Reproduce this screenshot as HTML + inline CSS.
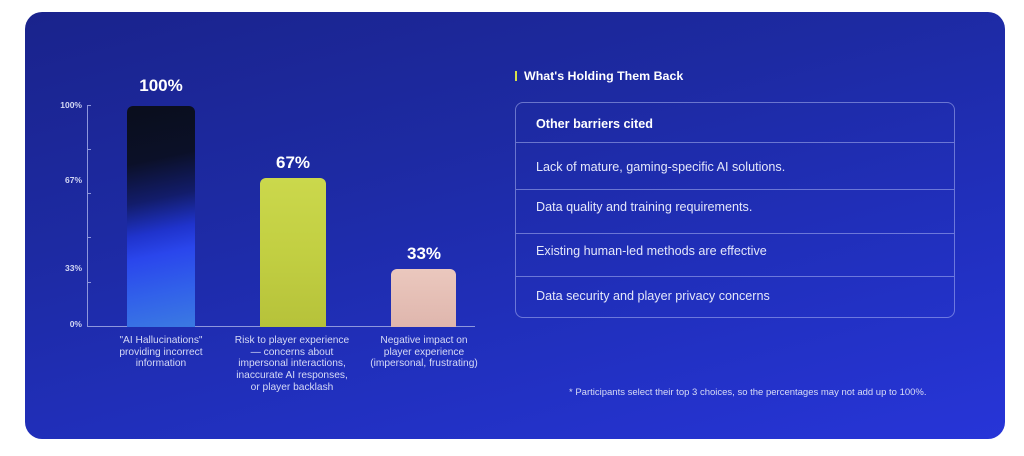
<!DOCTYPE html>
<html>
<head>
<meta charset="utf-8">
<style>
  html, body { margin:0; padding:0; }
  body { width:1024px; height:456px; background:#ffffff; position:relative; overflow:hidden;
         font-family:"Liberation Sans", sans-serif; }
  .card { position:absolute; left:25px; top:12px; width:980px; height:427px; border-radius:17px;
          background: linear-gradient(165deg, #1a238c 0%, #1d2aa2 35%, #2130c0 70%, #2735d8 100%); overflow:hidden; }
  .abs { position:absolute; }
  .axis { background:#8e97dd; }
  .ylab { position:absolute; right:923px; font-size:8.5px; font-weight:bold; color:#d4d8f4; text-align:right; line-height:10px; }
  .bar { position:absolute; border-radius:6px 6px 0 0; }
  .val { position:absolute; width:120px; text-align:center; color:#ffffff; font-size:17px; font-weight:bold; line-height:20px; }
  .cat { position:absolute; width:160px; text-align:center; color:#d6daf6; font-size:10.2px; line-height:11.7px; }
  .tbl { position:absolute; left:490px; top:90px; width:438px; height:214px; border:1px solid rgba(200,208,255,0.45); border-radius:8px; }
  .row { position:absolute; left:20px; color:#e4e7fa; font-size:12.6px; line-height:14px; }
  .div { position:absolute; left:0; width:438px; height:1px; background:rgba(200,208,255,0.45); }
</style>
</head>
<body>
<div class="card">
  <!-- axis -->
  <div class="abs axis" style="left:62px; top:93px; width:1px; height:222px;"></div>
  <div class="abs axis" style="left:62px; top:314px; width:388px; height:1px;"></div>
  <div class="abs axis" style="left:62px; top:93px; width:4px; height:1px;"></div>
  <div class="abs axis" style="left:62px; top:137px; width:4px; height:1px;"></div>
  <div class="abs axis" style="left:62px; top:181px; width:4px; height:1px;"></div>
  <div class="abs axis" style="left:62px; top:225px; width:4px; height:1px;"></div>
  <div class="abs axis" style="left:62px; top:270px; width:4px; height:1px;"></div>

  <div class="ylab" style="top:88px;">100%</div>
  <div class="ylab" style="top:163px;">67%</div>
  <div class="ylab" style="top:251px;">33%</div>
  <div class="ylab" style="top:307px;">0%</div>

  <!-- bars -->
  <div class="bar" style="left:102px; top:94px; width:68px; height:221px;
       background: linear-gradient(168deg, #0a0e1c 0%, #0b1028 25%, #121c6a 42%, #1f33cc 56%, #2a46ec 66%, #3160ea 82%, #3b7ae2 100%);"></div>
  <div class="bar" style="left:235px; top:166px; width:66px; height:149px;
       background: linear-gradient(180deg, #cbd84c 0%, #c2cf42 50%, #b6c23a 100%);"></div>
  <div class="bar" style="left:366px; top:257px; width:65px; height:58px;
       background: linear-gradient(180deg, #ebc8be 0%, #dfb6ad 100%);"></div>

  <!-- values -->
  <div class="val" style="left:76px; top:64px;">100%</div>
  <div class="val" style="left:208px; top:141px;">67%</div>
  <div class="val" style="left:339px; top:232px;">33%</div>

  <!-- categories -->
  <div class="cat" style="left:56px; top:323px;">"AI Hallucinations"<br>providing incorrect<br>information</div>
  <div class="cat" style="left:187px; top:323px;">Risk to player experience<br>— concerns about<br>impersonal interactions,<br>inaccurate AI responses,<br>or player backlash</div>
  <div class="cat" style="left:319px; top:323px;">Negative impact on<br>player experience<br>(impersonal, frustrating)</div>

  <!-- right panel -->
  <div class="abs" style="left:490px; top:59px; width:2px; height:10px; background:#d7e04a;"></div>
  <div class="abs" style="left:499px; top:57px; color:#ffffff; font-size:12.4px; font-weight:bold; line-height:14px;">What's Holding Them Back</div>

  <div class="tbl">
    <div class="row" style="top:14px; font-weight:bold; color:#ffffff;">Other barriers cited</div>
    <div class="div" style="top:39px;"></div>
    <div class="row" style="top:57px;">Lack of mature, gaming-specific AI solutions.</div>
    <div class="div" style="top:86px;"></div>
    <div class="row" style="top:97px;">Data quality and training requirements.</div>
    <div class="div" style="top:130px;"></div>
    <div class="row" style="top:141px;">Existing human-led methods are effective</div>
    <div class="div" style="top:173px;"></div>
    <div class="row" style="top:186px;">Data security and player privacy concerns</div>
  </div>

  <div class="abs" style="left:544px; top:376px; color:#d8dcf6; font-size:9.5px; line-height:10px; white-space:nowrap;">* Participants select their top 3 choices, so the percentages may not add up to 100%.</div>
</div>
</body>
</html>
